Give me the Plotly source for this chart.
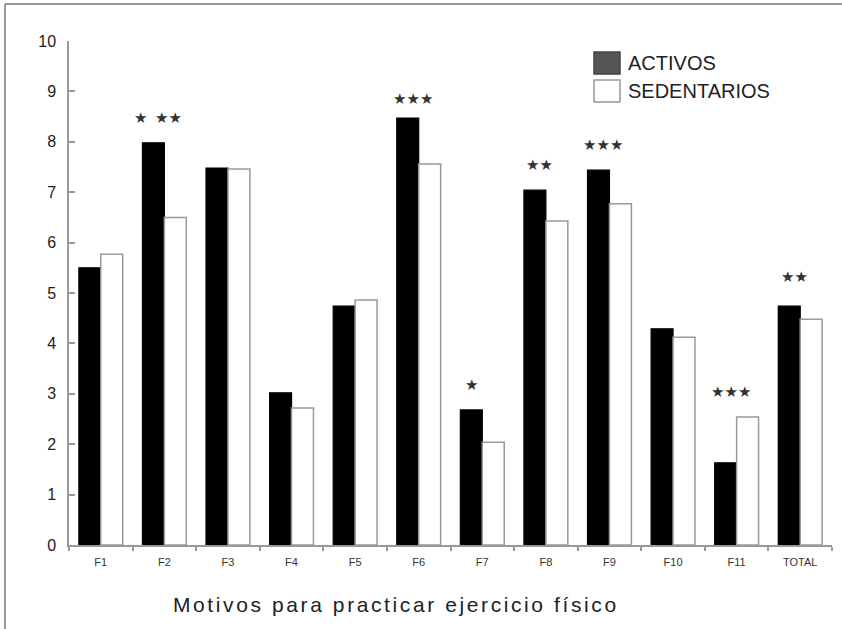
import plotly.graph_objects as go

categories = ["F1", "F2", "F3", "F4", "F5", "F6", "F7", "F8", "F9", "F10", "F11", "TOTAL"]
activos = [5.50, 7.98, 7.48, 3.02, 4.74, 8.47, 2.68, 7.04, 7.44, 4.29, 1.63, 4.74]
sedentarios = [5.77, 6.50, 7.46, 2.72, 4.86, 7.56, 2.04, 6.43, 6.77, 4.12, 2.54, 4.48]
significance = ["", "★\u2002★★", "", "", "", "★★★", "★", "★★", "★★★", "", "★★★", "★★"]
series_names = ["ACTIVOS", "SEDENTARIOS"]
y_ticks = [0, 1, 2, 3, 4, 5, 6, 7, 8, 9, 10]
x_title = "Motivos para practicar ejercicio físico"

W, H = 842, 629
ML, MR, MT, MB = 69, 10, 41, 84
PW, PH = W - ML - MR, H - MT - MB


def px(x):
    return (x - ML) / PW


def py(y):
    return 1 - (y - MT) / PH


FONT = "Liberation Sans, Arial, sans-serif"

fig = go.Figure()
fig.add_trace(go.Bar(x=categories, y=activos, name=series_names[0],
                     marker=dict(color="black", line=dict(color="black", width=1.2)),
                     showlegend=False))
fig.add_trace(go.Bar(x=categories, y=sedentarios, name=series_names[1],
                     marker=dict(color="white", line=dict(color="#999999", width=1.5)),
                     showlegend=False))

# significance stars
star_xshift = {"F7": -11}
star_yshift = {"F6": -6, "TOTAL": 4}
for c, a, s, txt in zip(categories, activos, sedentarios, significance):
    if not txt:
        continue
    fig.add_annotation(x=c, y=max(a, s) + 0.5, text=txt, showarrow=False,
                       xshift=star_xshift.get(c, -6), yshift=star_yshift.get(c, 0),
                       font=dict(family="DejaVu Sans", size=15, color="#333333"))

# custom legend
legend_rows = [(52, 74, "#555555", "#444444"), (80, 102, "white", "#999999")]
for name, (y0, y1, fill, line) in zip(series_names, legend_rows):
    fig.add_shape(type="rect", xref="paper", yref="paper",
                  x0=px(594), x1=px(620), y0=py(y1), y1=py(y0),
                  fillcolor=fill, line=dict(color=line, width=1.5))
    fig.add_annotation(xref="paper", yref="paper", x=px(626), y=py((y0 + y1) / 2),
                       text=name, showarrow=False, xanchor="left", yanchor="middle",
                       font=dict(family=FONT, size=20, color="#222222"))

# x axis title
fig.add_annotation(xref="paper", yref="paper", x=px(396), y=py(604),
                   text='<span style="letter-spacing:2.6px">' + x_title + '</span>',
                   showarrow=False, xanchor="center", yanchor="middle",
                   font=dict(family=FONT, size=21, color="#222222"))

# frame lines
fig.add_shape(type="line", xref="paper", yref="paper", x0=px(5), x1=px(842),
              y0=py(4), y1=py(4), line=dict(color="#777777", width=1.5))
fig.add_shape(type="line", xref="paper", yref="paper", x0=px(5), x1=px(5),
              y0=py(4), y1=py(629), line=dict(color="#777777", width=1.5))

fig.update_layout(
    width=W, height=H,
    margin=dict(l=ML, r=MR, t=MT, b=MB),
    paper_bgcolor="white", plot_bgcolor="white",
    barmode="group", bargap=0.31, bargroupgap=0,
    font=dict(family=FONT, color="#222222"),
)
fig.update_xaxes(showline=True, linecolor="#999999", linewidth=1.5,
                 ticks="outside", ticklen=4, tickcolor="#999999", tickwidth=1.5,
                 tickson="boundaries", showgrid=False, ticklabelstandoff=6,
                 tickfont=dict(family=FONT, size=11, color="#333333"))
fig.update_yaxes(range=[0, 10], tickvals=y_ticks, showline=True, linecolor="#999999",
                 linewidth=1.5, ticks="inside", ticklen=6, tickcolor="#999999",
                 tickwidth=1.5, showgrid=False, zeroline=False,
                 tickfont=dict(family=FONT, size=16, color="#222222"), ticklabelstandoff=8)

fig.write_html("out.html", config={"displayModeBar": False},
               post_script="document.body.style.margin='0';document.body.style.overflow='hidden';")
